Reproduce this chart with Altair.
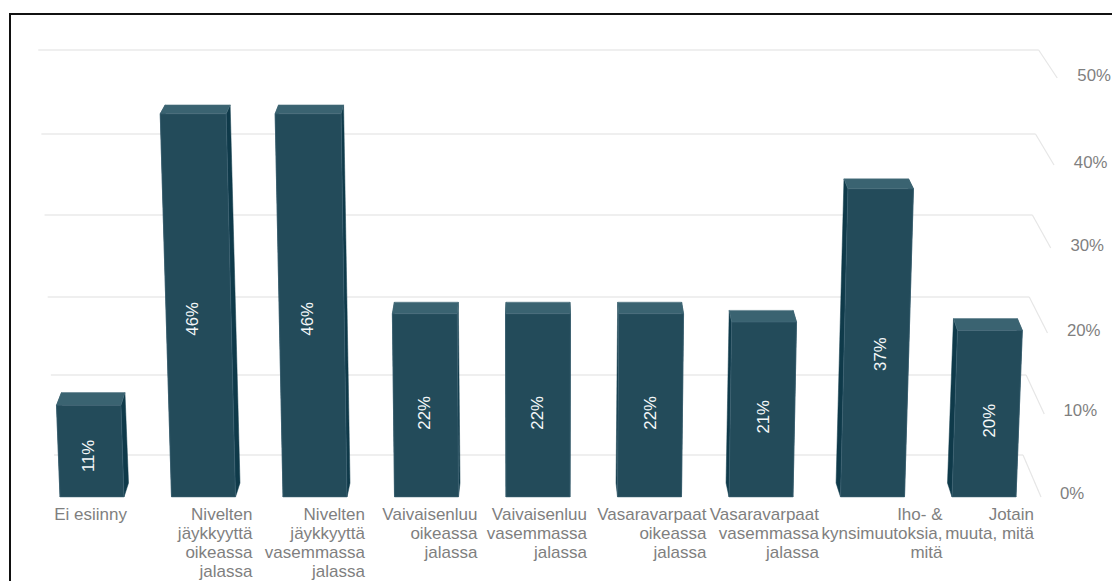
import altair as alt
import pandas as pd

# Chart content
categories = [
    "Ei esiinny",
    "Nivelten\njäykkyyttä\noikeassa\njalassa",
    "Nivelten\njäykkyyttä\nvasemmassa\njalassa",
    "Vaivaisenluu\noikeassa\njalassa",
    "Vaivaisenluu\nvasemmassa\njalassa",
    "Vasaravarpaat\noikeassa\njalassa",
    "Vasaravarpaat\nvasemmassa\njalassa",
    "Iho- &\nkynsimuutoksia,\nmitä",
    "Jotain\nmuuta, mitä",
]
values = [11, 46, 46, 22, 22, 22, 21, 37, 20]
axis_ticks = [0, 10, 20, 30, 40, 50]

# Layout of the perspective box, in screen units
WIDTH, HEIGHT = 1112, 581
BASELINE = 497          # screen row of the 0 % level on the front plane
UNIT = 8.33             # screen rows per percentage point
VANISH_X = 540          # column the bars lean away from
LEAN = 8e-5             # widening per screen row of height
FIRST_BAR, BAR_STEP, BAR_HALF = 92, 111.5, 32
LABEL_HALF_WIDTHS = [35, 49, 50, 51, 49, 57, 58, 70, 50]
WALL_ROWS = [455, 375, 297, 215, 134, 50]
TIP_ROWS = [497, 414, 333, 248, 165, 78]
TICK_ROWS = [494, 411, 331, 246, 163, 76]


def spread(x, row):
    """Column of a point at a screen row once the perspective lean is applied."""
    return VANISH_X + (x - VANISH_X) * (1 + LEAN * (BASELINE - row))


def depth_shift(x):
    return max(-4.5, min(4.5, (VANISH_X - x) / 75))


def rows(px):
    return px / UNIT


def level(row):
    return rows(BASELINE - row)


front, top, side = [], [], []
for i, v in enumerate(values):
    c = FIRST_BAR + i * BAR_STEP
    xl, xr = c - BAR_HALF, c + BAR_HALF
    s = depth_shift(c)
    lift0, lift1 = rows(14), rows(14 - 0.11 * v)
    row = BASELINE - v * UNIT
    fl, fr = spread(xl, row), spread(xr, row)
    bl, br = fl + s + 0.5, fr + s - 0.5
    front += [(i, k, px, py) for k, (px, py) in enumerate([(xl, 0), (xr, 0), (fr, v), (fl, v)])]
    top += [(i, k, px, py) for k, (px, py) in enumerate(
        [(fl, v), (fr, v), (br, v + lift1), (bl, v + lift1)])]
    side += [(f"{i}L", k, px, py) for k, (px, py) in enumerate(
        [(xl, 0), (xl + s, lift0), (bl, v + lift1), (fl, v)])]
    side += [(f"{i}R", k, px, py) for k, (px, py) in enumerate(
        [(xr, 0), (xr + s, lift0), (br, v + lift1), (fr, v)])]

poly_cols = ["bar", "k", "x", "y"]
front_df = pd.DataFrame(front, columns=poly_cols)
top_df = pd.DataFrame(top, columns=poly_cols)
side_df = pd.DataFrame(side, columns=poly_cols)

# Back wall and floor rules for every axis level
wall, diag = [], []
for t, w_row, tip_row in zip(axis_ticks, WALL_ROWS, TIP_ROWS):
    flat = BASELINE - t * 8.1
    wall += [(t, 0, spread(54, flat), level(w_row)), (t, 1, spread(1023, flat), level(w_row))]
    diag += [(t, 0, spread(1023, flat), level(w_row)), (t, 1, spread(1041, flat), level(tip_row))]
wall_df = pd.DataFrame(wall, columns=["t", "k", "x", "y"])
diag_df = pd.DataFrame(diag, columns=["t", "k", "x", "y"])

tick_df = pd.DataFrame({
    "x": [spread(1060, BASELINE - t * UNIT) for t in axis_ticks],
    "y": [level(r) for r in TICK_ROWS],
    "label": [f"{t}%" for t in axis_ticks],
})

centers = [FIRST_BAR + i * BAR_STEP for i in range(len(values))]
cat_df = pd.DataFrame({
    "x": [c + w for c, w in zip(centers, LABEL_HALF_WIDTHS)],
    "y": [level(506.8)] * len(values),
    "label": categories,
})
value_df = pd.DataFrame({
    "x": [VANISH_X + (c - VANISH_X) * (1 + LEAN * v * UNIT) for c, v in zip(centers, values)],
    "y": [v * 0.47 - rows(2) for v in values],
    "label": [f"{v}%" for v in values],
})

x_scale = alt.Scale(domain=[0, WIDTH], range=[0, WIDTH], nice=False, zero=False)
y_scale = alt.Scale(domain=[level(HEIGHT), level(0)], range=[HEIGHT, 0], nice=False, zero=False)
X = alt.X("x:Q", scale=x_scale, axis=None)
Y = alt.Y("y:Q", scale=y_scale, axis=None)


def lines(df, group, **style):
    return alt.Chart(df).mark_line(interpolate="linear", **style).encode(
        x=X, y=Y, order="k:Q", detail=f"{group}:N")


def faces(df, fill, stroke, width):
    return alt.Chart(df).mark_line(
        fill=fill, stroke=stroke, strokeWidth=width, interpolate="linear-closed"
    ).encode(x=X, y=Y, order="k:Q", detail="bar:N")


FONT = "Liberation Sans"
GREY = "#7f7f7f"

layers = [
    lines(wall_df, "t", color="#efefef", strokeWidth=2),
    lines(diag_df, "t", color="#e6e6e6", strokeWidth=1.2),
    faces(side_df, "#0f3a4a", "#0f3a4a", 0.5),
    faces(top_df, "#3a6371", "#4a707e", 0.5),
    faces(front_df, "#234b5a", "#45697a", 0.5),
    alt.Chart(tick_df).mark_text(font=FONT, fontSize=16.8, color=GREY, align="left", baseline="middle")
    .encode(x=X, y=Y, text="label:N"),
    alt.Chart(cat_df).mark_text(font=FONT, fontSize=17, color=GREY, align="right", baseline="top",
                                lineBreak="\n", lineHeight=19)
    .encode(x=X, y=Y, text="label:N"),
    alt.Chart(value_df).mark_text(font=FONT, fontSize=16.8, color="#f4f7f8", angle=270,
                                  align="center", baseline="middle")
    .encode(x=X, y=Y, text="label:N"),
    alt.Chart(pd.DataFrame({"a": [0]})).mark_rule(color="#111111", strokeWidth=2)
    .encode(x=alt.value(10), y=alt.value(14), y2=alt.value(HEIGHT)),
    alt.Chart(pd.DataFrame({"a": [0]})).mark_rule(color="#111111", strokeWidth=2)
    .encode(x=alt.value(9), x2=alt.value(WIDTH), y=alt.value(14)),
]

chart = alt.layer(*layers).properties(
    width=WIDTH,
    height=HEIGHT,
    padding=0,
    autosize=alt.AutoSizeParams(type="none"),
    background="white",
).configure_view(stroke=None)

chart.save("out.html", embed_options={"renderer": "svg", "actions": False})
